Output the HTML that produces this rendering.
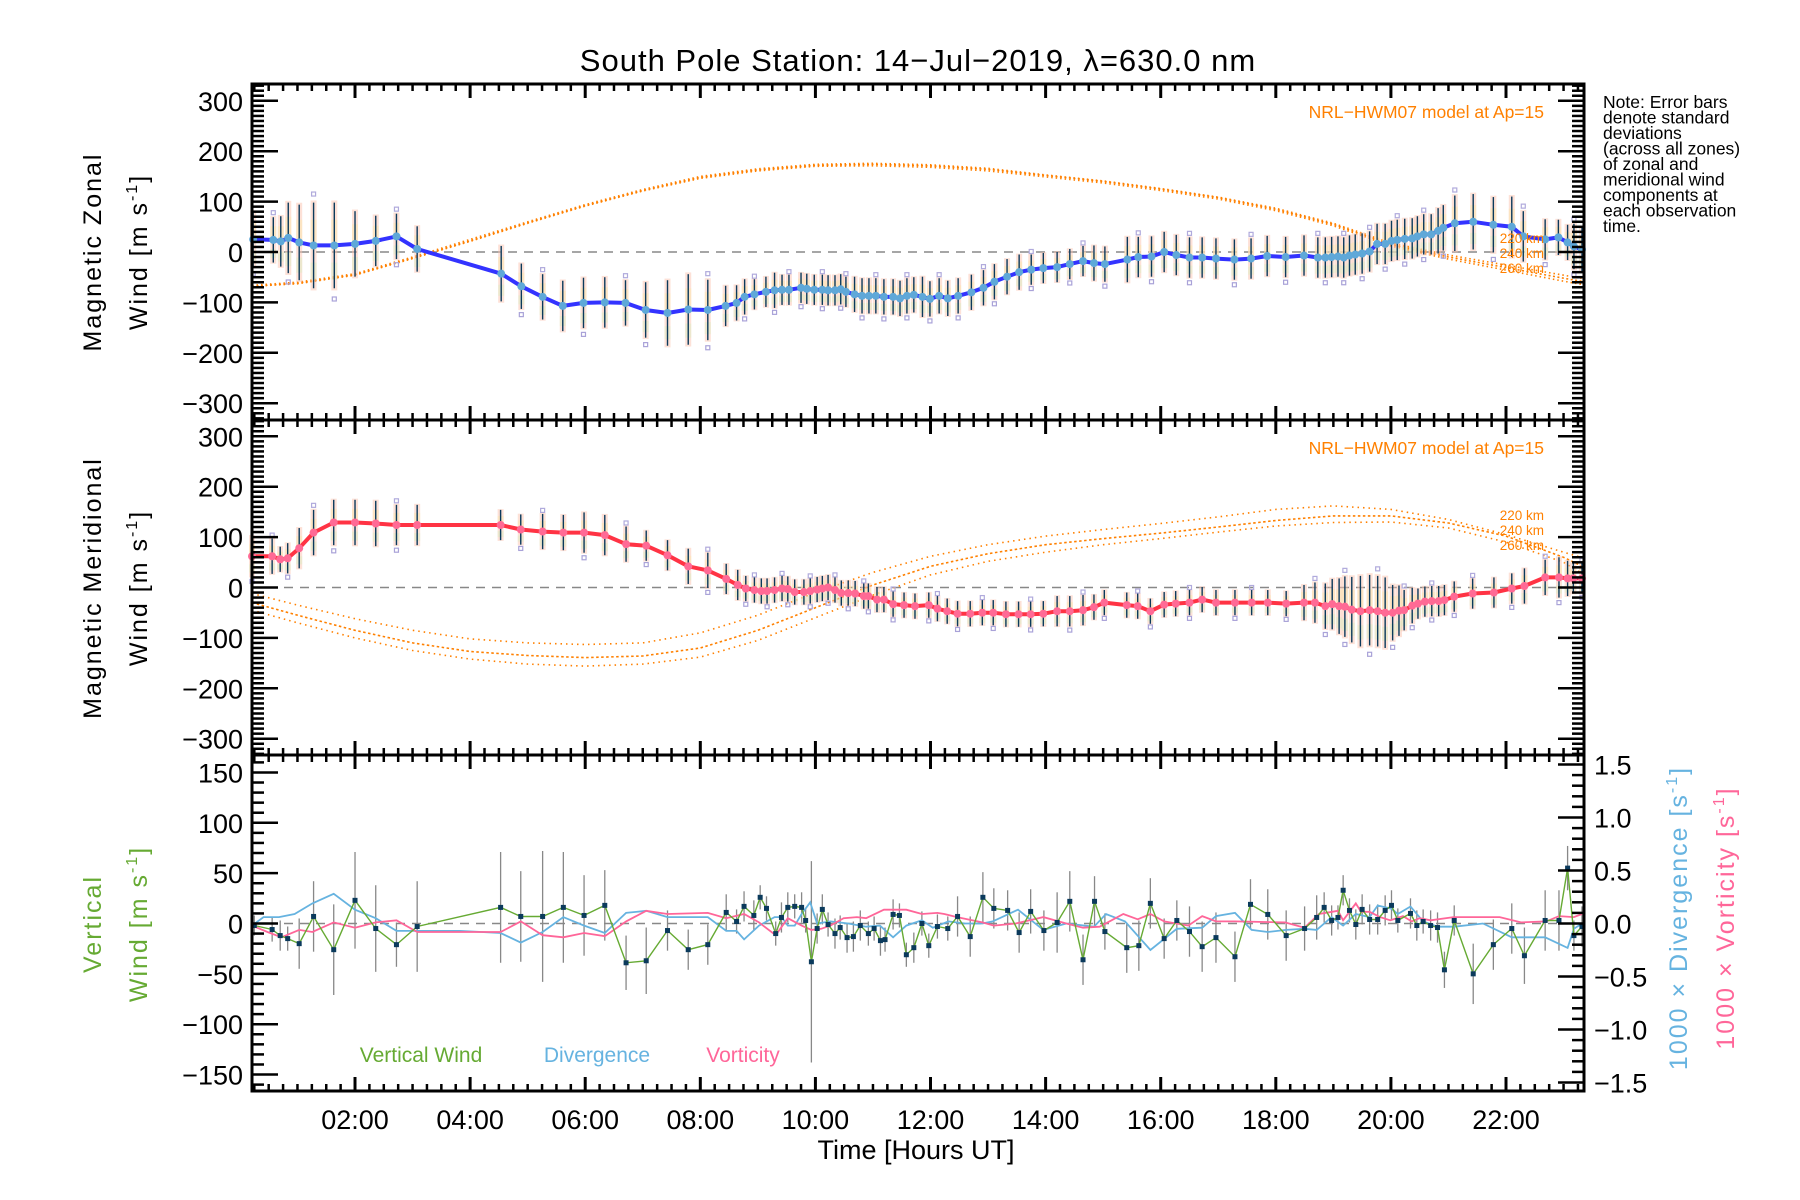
<!DOCTYPE html>
<html><head><meta charset="utf-8"><style>
html,body{margin:0;padding:0;background:#fff;}
svg{display:block;font-family:"Liberation Sans",sans-serif;}
</style></head><body>
<svg id="chart" width="1800" height="1200" viewBox="0 0 1800 1200" xmlns="http://www.w3.org/2000/svg">
<rect width="1800" height="1200" fill="#fff"/>
<text x="918" y="71" font-size="31" text-anchor="middle" letter-spacing="1">South Pole Station: 14−Jul−2019, λ=630.0 nm</text>
<g id="marks"></g>
<g id="axes"></g>
<g font-size="17.5" fill="#000">
<text x="1603" y="108">Note: Error bars</text>
<text x="1603" y="123.5">denote standard</text>
<text x="1603" y="139">deviations</text>
<text x="1603" y="154.5">(across all zones)</text>
<text x="1603" y="170">of zonal and</text>
<text x="1603" y="185.5">meridional wind</text>
<text x="1603" y="201">components at</text>
<text x="1603" y="216.5">each observation</text>
<text x="1603" y="232">time.</text>
</g>
<text x="1544" y="118" font-size="17.5" fill="#ff8000" text-anchor="end">NRL−HWM07 model at Ap=15</text>
<text x="1544" y="454" font-size="17.5" fill="#ff8000" text-anchor="end">NRL−HWM07 model at Ap=15</text>
<g font-size="13.5" fill="#ff8000" text-anchor="end">
<text x="1544" y="243">220 km</text>
<text x="1544" y="258">240 km</text>
<text x="1544" y="273">260 km</text>
<text x="1544" y="520">220 km</text>
<text x="1544" y="535">240 km</text>
<text x="1544" y="550">260 km</text>
</g>
<g font-size="25" letter-spacing="2">
<text transform="translate(101,252) rotate(-90)" text-anchor="middle">Magnetic Zonal</text>
<text transform="translate(147,252) rotate(-90)" text-anchor="middle">Wind [m s<tspan font-size="16" dy="-10">-1</tspan><tspan dy="10">]</tspan></text>
<text transform="translate(101,588) rotate(-90)" text-anchor="middle">Magnetic Meridional</text>
<text transform="translate(147,588) rotate(-90)" text-anchor="middle">Wind [m s<tspan font-size="16" dy="-10">-1</tspan><tspan dy="10">]</tspan></text>
<text transform="translate(101,924) rotate(-90)" text-anchor="middle" fill="#66aa33">Vertical</text>
<text transform="translate(147,924) rotate(-90)" text-anchor="middle" fill="#66aa33">Wind [m s<tspan font-size="16" dy="-10">-1</tspan><tspan dy="10">]</tspan></text>
<text transform="translate(1687,918) rotate(-90)" text-anchor="middle" fill="#66b3e0">1000 × Divergence [s<tspan font-size="16" dy="-10">-1</tspan><tspan dy="10">]</tspan></text>
<text transform="translate(1734,918) rotate(-90)" text-anchor="middle" fill="#ff6699">1000 × Vorticity [s<tspan font-size="16" dy="-10">-1</tspan><tspan dy="10">]</tspan></text>
</g>
<g font-size="21">
<text x="421" y="1062" text-anchor="middle" fill="#66aa33">Vertical Wind</text>
<text x="597" y="1062" text-anchor="middle" fill="#66b3e0">Divergence</text>
<text x="743" y="1062" text-anchor="middle" fill="#ff6699">Vorticity</text>
</g>
<text x="916" y="1159" font-size="27" text-anchor="middle">Time [Hours UT]</text>
</svg>
<script>
const zHours=[0.23,0.58,0.71,0.84,1.03,1.28,1.64,2.0,2.36,2.72,3.08,4.54,4.89,5.26,5.61,5.97,6.34,6.70,7.05,7.43,7.79,8.13,8.44,8.63,8.77,8.94,9.14,9.29,9.42,9.54,9.75,9.85,9.98,10.12,10.22,10.34,10.44,10.53,10.68,10.81,10.93,11.05,11.19,11.35,11.47,11.59,11.71,11.86,11.99,12.15,12.3,12.48,12.71,12.92,13.11,13.33,13.54,13.75,13.96,14.2,14.42,14.65,14.84,15.03,15.42,15.61,15.84,16.06,16.27,16.5,16.72,16.96,17.28,17.57,17.85,18.17,18.49,18.73,18.86,18.97,19.08,19.18,19.28,19.38,19.5,19.63,19.76,19.9,20.01,20.11,20.24,20.37,20.46,20.57,20.7,20.82,20.91,21.11,21.43,21.78,22.1,22.3,22.68,22.91,23.07,23.18,23.32];
const zWind=[25,24,21,28,19,13,13,16,22,31,6,-43,-68,-89,-107,-101,-100,-101,-115,-121,-114,-115,-107,-101,-89,-84,-79,-76,-75,-75,-71,-73,-75,-75,-76,-76,-74,-79,-84,-87,-87,-87,-89,-89,-92,-87,-85,-89,-93,-87,-92,-87,-80,-71,-59,-49,-40,-35,-32,-30,-24,-18,-22,-24,-15,-10,-9,0,-6,-11,-11,-13,-15,-13,-8,-10,-7,-11,-11,-10,-9,-11,-7,-5,-3,1,16,16,22,24,26,27,31,35,35,42,48,57,60,54,50,31,25,29,19,11,5];
const zErr=[55,45,50,70,75,85,85,65,50,45,45,55,45,45,50,50,50,45,55,65,70,60,40,35,35,30,30,35,30,30,30,30,30,30,30,30,30,30,35,35,35,35,35,35,35,35,35,40,35,35,35,35,35,35,35,35,35,30,30,30,30,30,35,35,45,40,40,40,40,40,40,40,40,40,40,40,40,40,40,40,40,40,40,40,40,40,40,40,40,40,40,40,40,40,40,45,45,55,55,55,60,50,40,35,35,45,45];
const mHours=[0.21,0.56,0.7,0.83,1.03,1.28,1.63,2.0,2.36,2.72,3.08,4.53,4.88,5.26,5.62,5.98,6.34,6.71,7.06,7.43,7.79,8.13,8.45,8.65,8.79,8.94,9.06,9.16,9.29,9.42,9.52,9.64,9.8,9.91,10.03,10.12,10.22,10.34,10.45,10.57,10.69,10.84,10.92,11.07,11.19,11.35,11.54,11.73,11.97,12.12,12.29,12.47,12.69,12.9,13.09,13.31,13.53,13.74,13.96,14.2,14.42,14.65,14.84,15.02,15.41,15.6,15.82,16.06,16.26,16.5,16.72,16.96,17.29,17.58,17.86,18.18,18.49,18.68,18.86,18.98,19.1,19.2,19.32,19.47,19.63,19.77,19.9,20.03,20.14,20.23,20.37,20.47,20.59,20.71,20.83,20.93,21.1,21.42,21.79,22.1,22.32,22.68,22.92,23.07,23.17,23.32];
const mWind=[62,62,56,58,78,109,129,129,127,124,124,124,115,111,109,109,104,86,83,64,42,34,17,5,-2,-5,-7,-7,-5,-2,-3,-9,-9,-7,-4,-2,0,-5,-11,-11,-12,-17,-17,-24,-24,-33,-35,-37,-35,-42,-47,-52,-52,-50,-50,-53,-53,-53,-52,-47,-47,-45,-39,-30,-35,-37,-47,-34,-32,-30,-24,-30,-30,-30,-30,-32,-30,-30,-37,-33,-37,-38,-44,-47,-45,-47,-50,-50,-46,-45,-36,-32,-28,-27,-27,-25,-18,-12,-10,-2,3,20,20,18,18,18];
const mErr=[40,35,25,30,40,45,45,45,45,40,40,30,30,35,35,40,40,35,30,30,35,35,30,30,25,25,25,25,25,25,25,25,25,25,25,25,25,25,25,25,25,25,25,25,25,25,25,25,25,25,25,25,25,25,25,25,25,25,25,30,30,30,25,25,25,25,25,25,25,25,25,25,25,25,25,25,35,40,45,50,55,60,65,70,70,70,70,55,50,40,35,30,30,30,30,30,30,30,30,30,35,35,40,35,30,30];
const modelHours=[0.21,1,2,3,4,5,6,7,8,9,10,11,12,13,14,15,16,17,18,19,20,21,22,23,23.36];
const zModel220=[-66,-60,-43,-10,25,60,94,124,150,165,174,176,173,166,153,141,126,109,87,57,18,-6,-26,-46,-53];
const zModel240=[-68,-62,-45,-12,22,58,92,122,148,163,172,174,171,164,152,140,125,108,85,55,15,-10,-31,-52,-59];
const zModel260=[-68,-63,-46,-13,21,57,91,121,146,161,170,171,168,161,149,137,122,105,82,52,12,-14,-36,-58,-65];
const mModel220=[-12,-35,-62,-85,-102,-110,-113,-110,-90,-55,-10,30,62,85,102,115,127,140,155,162,155,135,105,70,58];
const mModel240=[-30,-55,-85,-110,-127,-135,-139,-136,-120,-85,-40,5,42,67,85,97,108,120,133,142,142,128,102,60,40];
const mModel260=[-45,-70,-100,-125,-142,-152,-156,-152,-138,-105,-60,-15,25,52,70,85,97,110,122,129,130,118,90,50,25];
const vHours=[0.25,0.56,0.7,0.83,1.03,1.28,1.63,2.0,2.36,2.72,3.08,4.53,4.88,5.26,5.62,5.98,6.34,6.71,7.06,7.43,7.79,8.13,8.45,8.63,8.76,8.93,9.04,9.15,9.31,9.41,9.52,9.64,9.76,9.83,9.93,10.03,10.12,10.22,10.34,10.43,10.55,10.66,10.78,10.92,11.02,11.13,11.21,11.35,11.46,11.58,11.71,11.85,11.97,12.12,12.3,12.47,12.69,12.91,13.1,13.34,13.54,13.74,13.97,14.2,14.42,14.65,14.85,15.03,15.41,15.62,15.82,16.06,16.28,16.5,16.72,16.96,17.29,17.56,17.86,18.18,18.5,18.71,18.84,18.97,19.08,19.17,19.28,19.39,19.5,19.63,19.77,19.9,20.01,20.12,20.34,20.45,20.56,20.69,20.81,20.93,21.1,21.43,21.78,22.1,22.32,22.68,22.92,23.07,23.18,23.32];
const vWind=[-2,-6,-12,-15,-20,7,-26,23,-5,-21,-3,16,7,7,16,8,18,-39,-37,-7,-26,-21,11,2,17,8,26,15,-10,6,16,17,16,3,-38,-5,14,-1,-10,-4,-14,-13,-2,-10,-5,-17,-16,9,8,-31,-24,0,-22,-3,-5,7,-13,26,15,13,-9,12,-7,1,22,-36,22,-8,-24,-22,20,-15,3,-8,-23,-14,-33,19,9,-12,-5,6,16,3,6,33,13,-1,14,4,4,13,18,3,10,-2,2,-2,-4,-46,3,-50,-21,-5,-32,3,3,55,-12,-3];
const vErr=[10,12,15,12,25,35,45,48,43,22,45,55,45,65,55,40,35,27,33,20,20,20,18,12,15,15,12,12,12,15,15,12,15,12,100,15,15,12,15,12,15,15,15,12,12,15,12,15,12,12,15,12,12,12,12,20,20,25,20,20,20,22,20,30,30,25,25,18,25,25,25,20,20,25,25,25,25,25,25,25,22,22,15,15,12,15,12,15,15,15,15,15,15,12,15,15,12,15,15,18,15,30,25,25,28,30,30,22,15,20];
const dHours=[0.21,0.41,0.68,0.95,1.26,1.63,2.0,2.36,2.72,3.08,3.82,4.53,4.88,5.26,5.62,5.98,6.34,6.71,7.06,7.43,8.13,8.45,8.63,8.76,9.02,9.29,9.41,9.52,9.64,9.76,9.91,10.03,10.26,10.57,10.88,11.12,11.35,11.58,11.85,12.04,12.31,12.6,12.9,13.08,13.52,13.96,14.36,14.84,15.05,15.38,15.82,16.28,16.72,16.96,17.29,17.58,17.86,18.18,18.5,18.71,18.97,19.17,19.39,19.63,19.77,20.01,20.12,20.34,20.56,20.81,21.1,21.6,22.1,22.68,23.07,23.18,23.32];
const dVal=[-0.02,0.06,0.06,0.09,0.19,0.28,0.13,0.05,-0.07,-0.07,-0.07,-0.09,-0.18,-0.08,0.06,-0.02,-0.09,0.1,0.12,0.06,0.06,-0.07,-0.07,-0.15,-0.02,0.06,0.06,-0.02,-0.02,0.09,0.2,0,0.02,0,-0.03,-0.02,-0.13,-0.02,0.03,-0.04,0.02,0,0,0.02,0.13,-0.06,0,-0.03,0.09,0.02,-0.25,-0.05,-0.04,0.07,0.1,-0.06,-0.08,-0.06,-0.05,-0.06,0.06,-0.02,0.09,0.06,0.17,0.14,0.09,0.16,0.02,-0.03,-0.03,0,-0.13,-0.13,-0.23,-0.05,0];
const oHours=[0.21,0.48,0.72,1.03,1.26,1.63,2.0,2.36,2.72,3.08,4.53,4.88,5.26,5.62,5.98,6.34,6.71,7.06,7.43,8.13,8.45,8.76,9.02,9.31,9.52,9.76,9.93,10.1,10.26,10.49,10.72,10.88,11.19,11.35,11.58,11.85,12.12,12.24,12.46,12.9,13.1,13.48,13.96,14.36,14.65,14.94,15.35,15.6,15.82,16.06,16.48,16.72,16.96,17.29,18.16,18.5,18.75,19.08,19.17,19.39,19.48,19.63,19.81,19.99,20.21,20.36,20.5,20.69,21.09,21.6,21.89,22.26,22.7,22.92,23.18,23.32];
const oVal=[-0.02,-0.08,-0.13,-0.06,-0.08,0.01,-0.04,0.01,0.03,-0.08,-0.08,0.02,-0.11,-0.13,-0.09,-0.12,0.02,0.12,0.09,0.1,0.05,0.09,0.01,-0.11,0.05,-0.02,-0.06,-0.05,-0.02,0.05,0.06,0.05,0.13,0.13,0.13,0.09,0.1,0.09,0.06,0.01,-0.02,0,0.06,0,-0.04,-0.03,0.09,0.04,0.09,0.02,-0.02,0.07,0.02,0.02,0.01,-0.04,0.09,0.12,0.03,0.19,0.11,0.11,0.06,0.03,0.07,0.02,0.05,0.03,0.06,0.06,0.06,0.01,0.02,0.07,0.06,0.09];
const xTickLabels=["02:00","04:00","06:00","08:00","10:00","12:00","14:00","16:00","18:00","20:00","22:00"];
const windTickLabels=["300","200","100","0","−100","−200","−300"];
const vertTickLabels=["150","100","50","0","−50","−100","−150"];
const rightTickLabels=["1.5","1.0","0.5","0.0","−0.5","−1.0","−1.5"];

const NS="http://www.w3.org/2000/svg";
const L=252,R=1584,H0=0.21,PXH=57.55;
const panels=[{top:84,bot:420},{top:420,bot:755},{top:755,bot:1091}];
function X(h){return L+(h-H0)*PXH;}
function Y1(v){return 252-v*0.504;}
function Y2(v){return 587.5-v*0.504;}
function Y3(v){return 923.5-v*1.007;}
function YR(v){return 923.5-v*106;}
const marks=document.getElementById('marks');
const axes=document.getElementById('axes');
function el(tag,attrs,parent){const e=document.createElementNS(NS,tag);for(const k in attrs)e.setAttribute(k,attrs[k]);(parent||marks).appendChild(e);return e;}
function pts(hs,vs,Y){const n=Math.min(hs.length,vs.length);let s=[];for(let i=0;i<n;i++)s.push(X(hs[i]).toFixed(1)+","+Y(vs[i]).toFixed(1));return s.join(" ");}

[Y1(0),Y2(0),Y3(0)].forEach((y,i)=>{
  const z=el('line',{x1:L,x2:R,y1:y,y2:y,stroke:'#888','stroke-width':1.5,'stroke-dasharray':'9,7'});
  
  
});

function model(arr,Y,name,dash){
  const p=el('polyline',{points:pts(modelHours,arr,Y),fill:'none',stroke:'#ff8000','stroke-width':1.6,'stroke-dasharray':dash});
  
  
}
model(zModel220,Y1,'zonal-model-220km','1.5,3');
model(zModel240,Y1,'zonal-model-240km','2,2.5');
model(zModel260,Y1,'zonal-model-260km','1.5,3');
model(mModel220,Y2,'merid-model-220km','1.5,4');
model(mModel240,Y2,'merid-model-240km','2.5,2.5');
model(mModel260,Y2,'merid-model-260km','1.5,4');

function windPanel(hs,vs,es,Y,lineCol,dotCol,name){
  const n=Math.min(hs.length,vs.length,es.length);
  const g=el('g',{});
  
  
  for(let i=0;i<n;i++){
    const x=X(hs[i]),v=vs[i],e=es[i];
    el('rect',{x:x-3,y:Y(v+e*1.05),width:6,height:Y(v-e*1.05)-Y(v+e*1.05),fill:'#fbc3b0',opacity:0.5},g);
    el('rect',{x:x-3,y:Y(v+e*0.6),width:6,height:Y(v-e*0.1)-Y(v+e*0.6),fill:'#fbe8b0',opacity:0.55},g);
    el('rect',{x:x-3,y:Y(v-e*0.4),width:6,height:Y(v-e*0.8)-Y(v-e*0.4),fill:'#d6efc0',opacity:0.45},g);
    if(i%3===0){el('rect',{x:x-2,y:Y(v-e*1.25)-2,width:4,height:4,fill:'none',stroke:'#a9a2d8','stroke-width':1.2},g);}
    if(i%4===1){el('rect',{x:x-2,y:Y(v+e*1.2)-2,width:4,height:4,fill:'none',stroke:'#b0aadc','stroke-width':1.2},g);}
    el('line',{x1:x,x2:x,y1:Y(v+e),y2:Y(v-e),stroke:'#0b3a5c','stroke-width':1.4},g);
  }
  const line=el('polyline',{points:pts(hs,vs,Y),fill:'none',stroke:lineCol,'stroke-width':4,'stroke-linejoin':'round'});
  
  
  for(let i=0;i<n;i++){
    const c=el('circle',{cx:X(hs[i]),cy:Y(vs[i]),r:4,fill:dotCol});
    
    
  }
}
windPanel(zHours,zWind,zErr,Y1,'#3333ff','#5fa8d8','zonal-wind');
windPanel(mHours,mWind,mErr,Y2,'#ff3344','#ff6a95','meridional-wind');

(function(){
  const n=Math.min(vHours.length,vWind.length,vErr.length);
  const g=el('g',{});
  
  
  for(let i=0;i<n;i++){const x=X(vHours[i]);el('line',{x1:x,x2:x,y1:Y3(vWind[i]+vErr[i]),y2:Y3(vWind[i]-vErr[i]),stroke:'#888','stroke-width':1.3},g);}
  const d=el('polyline',{points:pts(dHours,dVal,YR),fill:'none',stroke:'#66b3e0','stroke-width':1.8});
  
  
  const o=el('polyline',{points:pts(oHours,oVal,YR),fill:'none',stroke:'#ff6699','stroke-width':1.8});
  
  
  const w=el('polyline',{points:pts(vHours,vWind,Y3),fill:'none',stroke:'#66aa33','stroke-width':1.4});
  
  
  for(let i=0;i<n;i++){
    const r=el('rect',{x:X(vHours[i])-2.5,y:Y3(vWind[i])-2.5,width:5,height:5,fill:'#0b3a5c'});
    
    
  }
})();

function ln(x1,y1,x2,y2,w){el('line',{x1:x1,y1:y1,x2:x2,y2:y2,stroke:'#000','stroke-width':w||2},axes);}
panels.forEach((p,pi)=>{
  const fr=el('rect',{x:L,y:p.top,width:R-L,height:p.bot-p.top,fill:'none',stroke:'#000','stroke-width':3},axes);
  
  
  for(let m=15;m<=23.5*60;m+=15){const h=m/60;if(h<H0||h>23.36)continue;const x=X(h);const major=(m%120===0);const len=major?14:7;const w=major?3:2.5;ln(x,p.top,x,p.top+len,w);ln(x,p.bot,x,p.bot-len,w);}
  const Y=pi===0?Y1:(pi===1?Y2:Y3);
  const lim=pi===2?160:330;
  for(let v=-lim;v<=lim;v+=10){const y=Y(v);if(y<p.top+1||y>p.bot-1)continue;const major=(pi===2?v%50===0:v%100===0);ln(L,y,L+(major?26:12),y,2.5);
    if(pi<2)ln(R,y,R-(major?26:12),y,2.5);}
  if(pi===2){for(let k=-15;k<=15;k++){const y=YR(k/10);if(y<p.top+1||y>p.bot-1)continue;const major=k%5===0;ln(R,y,R-(major?26:12),y,2.5);}}
  const labs=pi===2?vertTickLabels:windTickLabels;
  const step=pi===2?50:100;
  labs.forEach((t,i)=>{const v=(3-i)*step;const tx=el('text',{x:243,y:Y(v)+10,'font-size':27,'text-anchor':'end'},axes);tx.textContent=t;
    
    });
});
rightTickLabels.forEach((t,i)=>{const v=(3-i)*0.5;const tx=el('text',{x:1594,y:YR(v)+10,'font-size':27},axes);tx.textContent=t;
  
  });
xTickLabels.forEach((t,i)=>{const tx=el('text',{x:X(2+2*i),y:1129,'font-size':27,'text-anchor':'middle'},axes);tx.textContent=t;
  
  });
</script>
</body></html>
